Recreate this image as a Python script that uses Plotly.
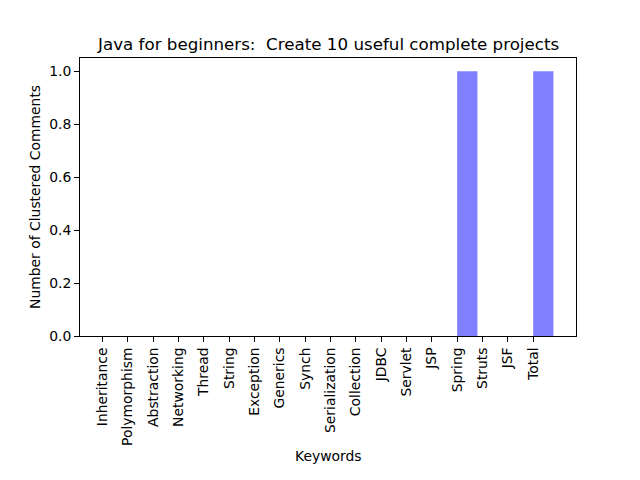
import plotly.graph_objects as go

categories = ["Inheritance", "Polymorphism", "Abstraction", "Networking", "Thread", "String",
              "Exception", "Generics", "Synch", "Serialization", "Collection", "JDBC",
              "Servlet", "JSP", "Spring", "Struts", "JSF", "Total"]
values = [0, 0, 0, 0, 0, 0, 0, 0, 0, 0, 0, 0, 0, 0, 1, 0, 0, 1]
y_ticks = [0.0, 0.2, 0.4, 0.6, 0.8, 1.0]

idx = list(range(len(categories)))
FONT = "DejaVu Sans"

fig = go.Figure()
fig.add_trace(go.Bar(x=idx, y=values, width=0.8, offset=0,
                     marker=dict(color="rgba(0,0,255,0.5)", line=dict(width=0))))

W, H = 640, 480
L, R, T, B = 80, 576, 57.6, 336
fig.update_layout(
    width=W, height=H,
    margin=dict(l=L, r=W - R, t=T, b=H - B, pad=0),
    paper_bgcolor="white", plot_bgcolor="white",
    showlegend=False,
    font=dict(family=FONT, size=13.9, color="black"),
    xaxis=dict(range=[-0.89, 18.69], tickmode="array", tickvals=idx, ticktext=categories,
               tickangle=-90, ticks="outside", ticklen=4.9, tickwidth=1, tickcolor="black",
               showline=True, linecolor="black", linewidth=1, mirror=True,
               showgrid=False, zeroline=False, tickfont=dict(size=13.9)),
    yaxis=dict(range=[0, 1.05], tickmode="array", tickvals=y_ticks,
               ticktext=[f"{v:.1f}" for v in y_ticks],
               ticks="outside", ticklen=4.9, tickwidth=1, tickcolor="black",
               showline=True, linecolor="black", linewidth=1, mirror=True,
               showgrid=False, zeroline=False, tickfont=dict(size=13.9)),
    annotations=[
        dict(text="Java for beginners:  Create 10 useful complete projects", xref="paper", yref="paper",
             x=0.5, y=(B - 44) / (B - T), xanchor="center", yanchor="middle", showarrow=False,
             font=dict(size=16.7, family=FONT)),
        dict(text="Keywords", xref="paper", yref="paper",
             x=0.5, y=(B - 456) / (B - T), xanchor="center", yanchor="middle", showarrow=False,
             font=dict(size=13.9, family=FONT)),
        dict(text="Number of Clustered Comments", xref="paper", yref="paper",
             x=(35 - L) / (R - L), y=0.5, xanchor="center", yanchor="middle", showarrow=False,
             textangle=-90, font=dict(size=13.9, family=FONT)),
    ],
)

fig.write_html("out.html")
